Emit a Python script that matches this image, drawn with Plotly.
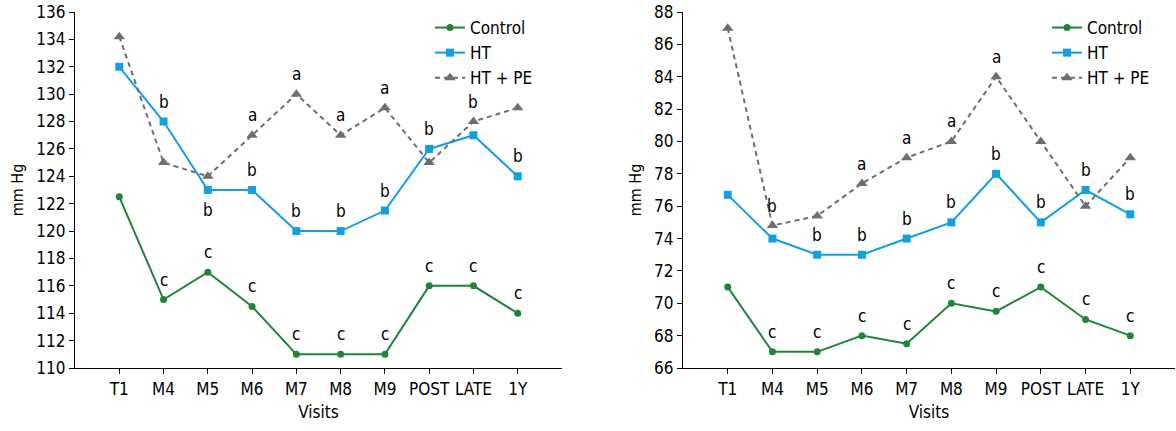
import plotly.graph_objects as go

visits = ["T1", "M4", "M5", "M6", "M7", "M8", "M9", "POST", "LATE", "1Y"]

# Left panel (systolic)
sys_control = [122.5, 115, 117, 114.5, 111, 111, 111, 116, 116, 114]
sys_ht = [132, 128, 123, 123, 120, 120, 121.5, 126, 127, 124]
sys_htpe = [134.2, 125, 124, 127, 130, 127, 129, 125, 128, 129]
sys_control_lbl = ["", "c", "c", "c", "c", "c", "c", "c", "c", "c"]
sys_ht_lbl = ["", "b", "b", "b", "b", "b", "b", "b", "", "b"]
sys_htpe_lbl = ["", "", "", "a", "a", "a", "a", "", "b", ""]

# Right panel (diastolic)
dia_control = [71, 67, 67, 68, 67.5, 70, 69.5, 71, 69, 68]
dia_ht = [76.7, 74, 73, 73, 74, 75, 78, 75, 77, 75.5]
dia_htpe = [87, 74.8, 75.4, 77.4, 79, 80, 84, 80, 76, 79]
dia_control_lbl = ["", "c", "c", "c", "c", "c", "c", "c", "c", "c"]
dia_ht_lbl = ["", "", "b", "b", "b", "b", "b", "b", "b", "b"]
dia_htpe_lbl = ["", "b", "", "a", "a", "a", "a", "", "", ""]

FONT = "DejaVu Sans Condensed, Roboto, sans-serif"
FS = 17
GREEN = "#21843a"
BLUE = "#12a0e2"
GRAY = "#6e6e6e"

fig = go.Figure()

def add_panel(ctrl, ht, htpe, xa, ya, leg):
    fig.add_trace(go.Scatter(x=visits, y=ctrl, name="Control", mode="lines+markers",
                             line=dict(color=GREEN, width=2),
                             marker=dict(symbol="circle", size=7, color=GREEN),
                             xaxis=xa, yaxis=ya, legend=leg))
    fig.add_trace(go.Scatter(x=visits, y=ht, name="HT", mode="lines+markers",
                             line=dict(color=BLUE, width=2),
                             marker=dict(symbol="square", size=8, color=BLUE),
                             xaxis=xa, yaxis=ya, legend=leg))
    fig.add_trace(go.Scatter(x=visits, y=htpe, name="HT + PE", mode="lines+markers",
                             line=dict(color=GRAY, width=2, dash="5px,4px"),
                             marker=dict(symbol="triangle-up", size=10, color=GRAY),
                             xaxis=xa, yaxis=ya, legend=leg))

add_panel(sys_control, sys_ht, sys_htpe, "x", "y", "legend")
add_panel(dia_control, dia_ht, dia_htpe, "x2", "y2", "legend2")

annotations = []
def add_labels(vals, lbls, xref, yref, below=()):
    for i, (v, t) in enumerate(zip(vals, lbls)):
        if not t:
            continue
        shift = -20 if visits[i] in below else 20
        annotations.append(dict(x=visits[i], y=v, text=t, xref=xref, yref=yref,
                                showarrow=False, yshift=shift,
                                font=dict(family=FONT, size=FS, color="black")))

add_labels(sys_control, sys_control_lbl, "x", "y")
add_labels(sys_ht, sys_ht_lbl, "x", "y", below=("M5",))
add_labels(sys_htpe, sys_htpe_lbl, "x", "y")
add_labels(dia_control, dia_control_lbl, "x2", "y2")
add_labels(dia_ht, dia_ht_lbl, "x2", "y2")
add_labels(dia_htpe, dia_htpe_lbl, "x2", "y2")

axis_common = dict(showline=True, linecolor="black", linewidth=1.3, showgrid=False,
                   zeroline=False, ticks="outside", ticklen=5, tickcolor="black",
                   automargin=False, tickangle=0,
                   tickfont=dict(family=FONT, size=FS, color="black"))

W, H = 1176, 431
ML, MR, MT, MB = 75, 1, 12, 63
PW = W - ML - MR
fig.update_layout(
    width=W, height=H,
    margin=dict(l=ML, r=MR, t=MT, b=MB),
    plot_bgcolor="white", paper_bgcolor="white",
    font=dict(family=FONT, size=FS, color="black"),
    xaxis=dict(domain=[0, (562 - ML) / PW], type="category", range=[-1, 10],
               title=dict(text="Visits", font=dict(family=FONT, size=FS), standoff=8),
               anchor="y", **axis_common),
    yaxis=dict(domain=[0, 1], range=[110, 136], dtick=2, anchor="x",
               title=dict(text="mm Hg", font=dict(family=FONT, size=16), standoff=8),
               **axis_common),
    xaxis2=dict(domain=[(683 - ML) / PW, 1], type="category", range=[-1, 10],
                title=dict(text="Visits", font=dict(family=FONT, size=FS), standoff=8),
                anchor="y2", **axis_common),
    yaxis2=dict(domain=[0, 1], range=[66, 88], dtick=2, anchor="x2",
                title=dict(text="mm Hg", font=dict(family=FONT, size=16), standoff=8),
                **axis_common),
    legend=dict(x=(430 - ML) / PW, y=1 + 2 / (H - MT - MB), xanchor="left", yanchor="top",
                bgcolor="rgba(0,0,0,0)", font=dict(family=FONT, size=FS),
                tracegroupgap=0, itemwidth=30),
    legend2=dict(x=(1047 - ML) / PW, y=1 + 2 / (H - MT - MB), xanchor="left", yanchor="top",
                 bgcolor="rgba(0,0,0,0)", font=dict(family=FONT, size=FS),
                 tracegroupgap=0, itemwidth=30),
    annotations=annotations,
    showlegend=True,
)

fig.write_html("out.html")
